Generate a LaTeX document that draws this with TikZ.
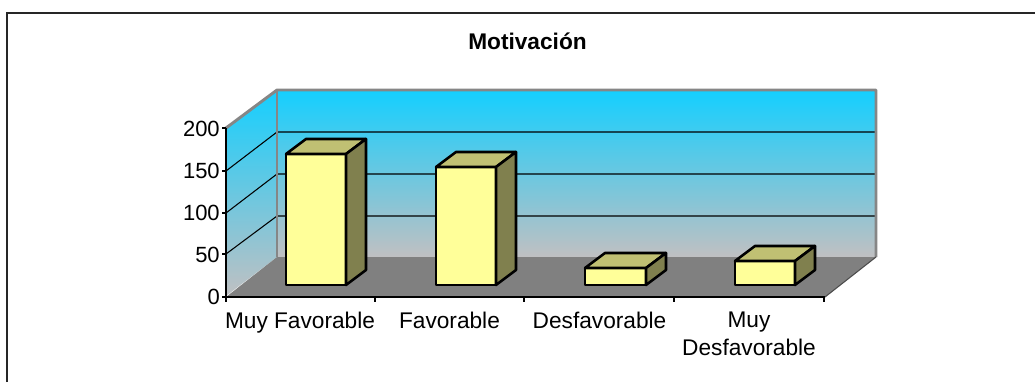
\documentclass[tikz,border=0pt]{standalone}
\usepackage{fontspec}
\setmainfont{Liberation Sans}
\definecolor{frontcol}{RGB}{255,255,153}
\definecolor{topcol}{RGB}{192,192,115}
\definecolor{sidecol}{RGB}{128,128,78}
\definecolor{floorcol}{RGB}{128,128,128}
\definecolor{walltop}{RGB}{20,207,255}
\definecolor{wallbot}{RGB}{192,192,194}
\definecolor{wallborder}{RGB}{134,134,134}
\tikzset{
  grid line/.style={black, line width=0.8pt},
  wall edge/.style={wallborder, line width=2.2pt, line join=round},
  axis line/.style={black, line width=0.8pt},
  bar face/.style={draw=black, line width=1.9pt, line join=round},
  ticklab/.style={anchor=east, inner sep=0pt, font=\fontsize{16.5}{18}\selectfont},
  catlab/.style={anchor=base, inner sep=0pt, align=center, font=\fontsize{17}{21}\selectfont},
  titlelab/.style={anchor=base, inner sep=0pt, font=\bfseries\fontsize{17}{20}\selectfont}
}
\begin{document}
\begin{tikzpicture}[x=0.75pt,y=-0.75pt]
\useasboundingbox (0,0) rectangle (1035,382);
% outer frame
\draw[line width=1.6pt, black!85] (7,382) -- (7,13) -- (1035,13);
% title
\node[titlelab] (title) at (527.5,49) {Motivación};
% back wall
\shade[top color=walltop, bottom color=wallbot] (277,90) rectangle (876,257);
% side wall
\shade[top color=walltop, bottom color=wallbot] (226,128) -- (277,90) -- (277,257) -- (226,296) -- cycle;
% floor
\fill[floorcol] (226,297) -- (277,257) -- (876,257) -- (825,297) -- cycle;
% gridlines
\foreach \fy/\by in {254/216, 213/174, 171/132}{
  \draw[grid line] (226,\fy) -- (277,\by) -- (876,\by);
}
% wall borders
\draw[wall edge] (226,128) -- (277,90) -- (876,90) -- (876,257);
\draw[wall edge] (277,90) -- (277,257);
% floor right edge
\draw[black!70, line width=0.8pt] (825,297) -- (876,257);
% axes
\draw[axis line] (226,128) -- (226,297) -- (825,297);
\foreach \ty in {128,171,213,254,297}{
  \draw[axis line] (222,\ty) -- (226,\ty);
}
\foreach \tx in {226,375,524,674,824}{
  \draw[axis line] (\tx,297) -- (\tx,302);
}
% tick labels
\node[ticklab] (y200) at (220,129) {200};
\node[ticklab] (y150) at (220,171) {150};
\node[ticklab] (y100) at (220,213) {100};
\node[ticklab] (y50)  at (220,255) {50};
\node[ticklab] (y0)   at (220,297) {0};
% bars
\foreach \xa/\xb/\yt in {286/346/154, 436/496/167, 585/646/268, 735/795/261}{
  \filldraw[bar face, fill=frontcol] (\xa,285) rectangle (\xb,\yt);
  \filldraw[bar face, fill=topcol] (\xa,\yt) -- ({\xa+20},{\yt-15}) -- ({\xb+20},{\yt-15}) -- (\xb,\yt) -- cycle;
  \filldraw[bar face, fill=sidecol] (\xb,\yt) -- ({\xb+20},{\yt-15}) -- ({\xb+20},270) -- (\xb,285) -- cycle;
}
% category labels
\node[catlab] (c1) at (300,328) {Muy Favorable};
\node[catlab] (c2) at (449.5,328) {Favorable};
\node[catlab] (c3) at (599.5,328) {Desfavorable};
\node[catlab, anchor=north] (c4) at (749,312) {Muy\\Desfavorable};
\end{tikzpicture}
\end{document}
